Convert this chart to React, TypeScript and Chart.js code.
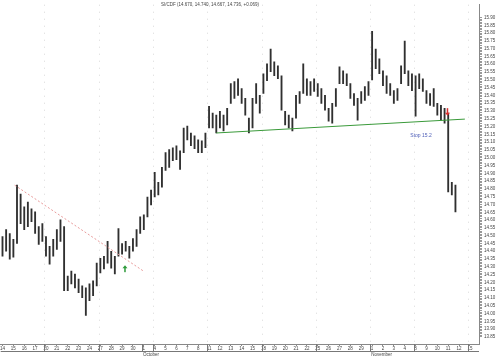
import { useEffect, useRef } from 'react';
import { Chart, registerables } from 'chart.js';

Chart.register(...registerables);

const titleText = 'SI/CDF (14.670, 14.740, 14.667, 14.736, +0.069)';

const dayLabels = [
  '14', '15', '16', '17', '20', '21', '22', '23', '24', '27', '28', '29', '30', '1',
  '4', '5', '6', '7', '8', '11', '12', '13', '14', '15', '18', '19', '20', '21', '22',
  '25', '26', '27', '28', '29', '1', '2', '3', '4', '8', '9', '10', '11', '12', '15',
];
const monthNames = ['October', 'November'];
const monthStartDays = [13, 34];
const weekStartDays = [4, 9, 13, 14, 19, 24, 29, 34, 38, 43];
const gridDays = [4, 9, 14, 19, 24, 29, 34, 38, 43];
const barsPerDay = 3;

const highs = [
  14.495, 14.539, 14.514, 14.476, 14.824, 14.767, 14.685, 14.716, 14.672, 14.653,
  14.558, 14.577, 14.495, 14.431, 14.476, 14.539, 14.602, 14.558, 14.241, 14.273,
  14.254, 14.222, 14.178, 14.165, 14.191, 14.210, 14.324, 14.355, 14.368,
  14.463, 14.400, 14.368, 14.545, 14.450, 14.463, 14.431, 14.482, 14.539, 14.621,
  14.634, 14.748, 14.792, 14.906, 14.843, 14.938, 15.033, 15.052, 15.064, 15.077,
  15.045, 15.191, 15.203, 15.159, 15.140, 15.115, 15.109, 15.159, 15.330, 15.286,
  15.273, 15.298, 15.273, 15.317, 15.476, 15.488, 15.507, 15.444, 15.381,
  15.254, 15.381, 15.476, 15.400, 15.539, 15.602, 15.697, 15.615, 15.590, 15.526,
  15.298, 15.273, 15.254, 15.400, 15.425, 15.602, 15.507, 15.488, 15.507, 15.476,
  15.444, 15.400, 15.317, 15.349, 15.444, 15.583, 15.558, 15.539, 15.476, 15.412,
  15.381, 15.425, 15.457, 15.488, 15.811, 15.697, 15.634, 15.558, 15.526, 15.476,
  15.431, 15.444, 15.590, 15.748, 15.558, 15.539, 15.526, 15.539, 15.507, 15.431,
  15.412, 15.444, 15.349, 15.336, 15.317, 15.286, 14.843, 14.824,
];

const lows = [
  14.368, 14.400, 14.349, 14.362, 14.450, 14.577, 14.539, 14.558, 14.590, 14.514,
  14.444, 14.463, 14.368, 14.317, 14.368, 14.412, 14.463, 14.147, 14.147, 14.191,
  14.165, 14.134, 14.102, 13.988, 14.083, 14.115, 14.178, 14.261, 14.286,
  14.324, 14.292, 14.254, 14.368, 14.381, 14.400, 14.355, 14.400, 14.431, 14.514,
  14.539, 14.621, 14.697, 14.748, 14.761, 14.811, 14.919, 14.938, 14.982, 14.988,
  14.925, 15.033, 15.115, 15.077, 15.058, 15.033, 15.033, 15.064, 15.191, 15.191,
  15.159, 15.191, 15.172, 15.210, 15.349, 15.381, 15.400, 15.349, 15.273,
  15.159, 15.191, 15.349, 15.286, 15.412, 15.495, 15.552, 15.526, 15.507, 15.305,
  15.210, 15.191, 15.172, 15.254, 15.349, 15.412, 15.400, 15.400, 15.425, 15.393,
  15.349, 15.305, 15.235, 15.222, 15.330, 15.476, 15.476, 15.463, 15.381, 15.336,
  15.241, 15.349, 15.368, 15.400, 15.500, 15.571, 15.539, 15.463, 15.412, 15.400,
  15.349, 15.368, 15.476, 15.539, 15.463, 15.431, 15.267, 15.444, 15.425, 15.349,
  15.336, 15.330, 15.273, 15.241, 15.222, 14.780, 14.761, 14.653,
];

// trend lines: [x in bar slots, price]
const downTrendX = [3.36, 38.9];
const downTrendY = [14.824, 14.273];
const supportX = [59.0, 127.6];
const supportY = [15.159, 15.248];
const stopLabel = { text: 'Stop 15.2', x: 115.5, y: 15.14 };
const upArrow = { x: 33.8, y: 14.285 };
const downArrow = { x: 122.8, y: 15.27 };

const yMin = 13.805;
const yMax = 15.982;
const yTickStart = 13.85;
const yTickEnd = 15.9;

const FONT = '"Liberation Sans", "DejaVu Sans", sans-serif';

export default function App() {
  const ref = useRef<HTMLCanvasElement | null>(null);

  useEffect(() => {
    document.body.style.margin = '0';
    const canvas = ref.current;
    if (!canvas) return;

    const totalSlots = dayLabels.length * barsPerDay;

    const gridPlugin = {
      id: 'dotgrid',
      beforeDatasetsDraw(chart: any) {
        const { ctx, scales } = chart;
        const x = scales.x;
        const area = chart.chartArea;
        ctx.save();
        ctx.strokeStyle = 'rgba(170,170,170,0.45)';
        ctx.lineWidth = 1;
        ctx.setLineDash([1, 6]);
        gridDays.forEach((d) => {
          const px = Math.round(x.getPixelForValue(d * barsPerDay - 0.5)) + 0.5;
          ctx.beginPath();
          ctx.moveTo(px, area.top);
          ctx.lineTo(px, area.bottom);
          ctx.stroke();
        });
        ctx.restore();
      },
    };

    const overlay = {
      id: 'overlay',
      afterDraw(chart: any) {
        const { ctx, scales } = chart;
        const x = scales.x;
        const y = scales.y;
        const area = chart.chartArea;
        ctx.save();
        ctx.font = `4.5px ${FONT}`;
        ctx.fillStyle = '#444';
        ctx.textAlign = 'center';
        ctx.textBaseline = 'middle';
        ctx.fillText(titleText, 210, 5);

        ctx.strokeStyle = '#777';
        ctx.lineWidth = 1;
        weekStartDays.forEach((d) => {
          const px = Math.round(x.getPixelForValue(d * barsPerDay - 0.5)) + 0.5;
          ctx.beginPath();
          ctx.moveTo(px, area.bottom);
          ctx.lineTo(px, area.bottom + 7);
          ctx.stroke();
        });
        ctx.beginPath();
        ctx.moveTo(area.left, area.bottom + 7.5);
        ctx.lineTo(area.right, area.bottom + 7.5);
        ctx.stroke();

        ctx.fillStyle = '#444';
        ctx.textAlign = 'left';
        monthNames.forEach((m, i) => {
          const px = x.getPixelForValue(monthStartDays[i] * barsPerDay - 0.5);
          ctx.fillText(m, px + 1, area.bottom + 10.5);
        });

        ctx.fillStyle = '#5060b8';
        ctx.textAlign = 'center';
        ctx.font = `5px ${FONT}`;
        ctx.fillText(stopLabel.text, x.getPixelForValue(stopLabel.x), y.getPixelForValue(stopLabel.y));

        const ux = x.getPixelForValue(upArrow.x);
        const uy = y.getPixelForValue(upArrow.y);
        ctx.fillStyle = '#2e9a3a';
        ctx.beginPath();
        ctx.moveTo(ux, uy - 4);
        ctx.lineTo(ux - 2.5, uy - 1);
        ctx.lineTo(ux + 2.5, uy - 1);
        ctx.closePath();
        ctx.fill();
        ctx.fillRect(ux - 0.75, uy - 1.5, 1.5, 4.5);

        const dx = x.getPixelForValue(downArrow.x);
        const dy = y.getPixelForValue(downArrow.y);
        ctx.fillStyle = '#d83030';
        ctx.beginPath();
        ctx.moveTo(dx, dy);
        ctx.lineTo(dx - 2.5, dy - 3);
        ctx.lineTo(dx + 2.5, dy - 3);
        ctx.closePath();
        ctx.fill();
        ctx.fillRect(dx - 0.75, dy - 7.5, 1.5, 5);
        ctx.restore();
      },
    };

    const yTicks: number[] = [];
    for (let k = 0; k <= Math.round((yTickEnd - yTickStart) * 100); k++) {
      yTicks.push(Math.round((yTickStart + k * 0.01) * 100) / 100);
    }

    const chart = new Chart(canvas, {
      type: 'bar',
      data: {
        datasets: [
          {
            type: 'line',
            data: downTrendX.map((v, i) => ({ x: v, y: downTrendY[i] })),
            borderColor: '#e89a9a',
            borderWidth: 1,
            borderDash: [2, 2],
            pointRadius: 0,
            fill: false,
          } as any,
          {
            type: 'line',
            data: supportX.map((v, i) => ({ x: v, y: supportY[i] })),
            borderColor: '#3a9a3a',
            borderWidth: 1,
            pointRadius: 0,
            fill: false,
          } as any,
          {
            type: 'bar',
            data: highs.map((h, i) => ({ x: i, y: [lows[i], h] })),
            backgroundColor: '#303030',
            borderWidth: 0,
            barThickness: 1.2,
          } as any,
        ],
      },
      options: {
        animation: false,
        responsive: false,
        devicePixelRatio: 1,
        layout: { padding: 0 },
        plugins: {
          legend: { display: false },
          tooltip: { enabled: false },
          title: { display: false },
        },
        scales: {
          x: {
            type: 'linear',
            min: -0.5,
            max: totalSlots - 0.5,
            offset: false,
            afterBuildTicks: (scale: any) => {
              scale.ticks = dayLabels.map((_, d) => ({ value: d * barsPerDay }));
            },
            afterFit: (scale: any) => {
              scale.height = 14;
            },
            ticks: {
              autoSkip: false,
              maxRotation: 0,
              minRotation: 0,
              padding: 0,
              color: '#444',
              font: { size: 4.5, family: FONT },
              callback: (value: any) => dayLabels[Math.round(Number(value) / barsPerDay)] ?? '',
            },
            grid: {
              drawOnChartArea: false,
              offset: false,
              tickLength: 2,
              color: '#888',
            },
            border: { display: true, color: '#888' },
          },
          y: {
            type: 'linear',
            position: 'right',
            min: yMin,
            max: yMax,
            afterBuildTicks: (scale: any) => {
              scale.ticks = yTicks.map((v) => ({ value: v }));
            },
            afterFit: (scale: any) => {
              scale.width = 21;
            },
            ticks: {
              autoSkip: false,
              padding: 2,
              color: '#444',
              font: { size: 4.5, family: FONT },
              callback: (value: any) => {
                const c = Math.round(Number(value) * 100);
                return c % 5 === 0 ? (c / 100).toFixed(2) : '';
              },
            },
            grid: {
              drawOnChartArea: false,
              tickLength: 3,
              color: '#999',
              tickColor: '#999',
            },
            border: { display: true, color: '#888' },
          },
        },
      },
      plugins: [gridPlugin, overlay],
    });

    return () => {
      chart.destroy();
    };
  }, []);

  return (
    <div style={{ width: 500, height: 358 }}>
      <canvas ref={ref} width={500} height={358} style={{ display: 'block', width: 500, height: 358 }} />
    </div>
  );
}
